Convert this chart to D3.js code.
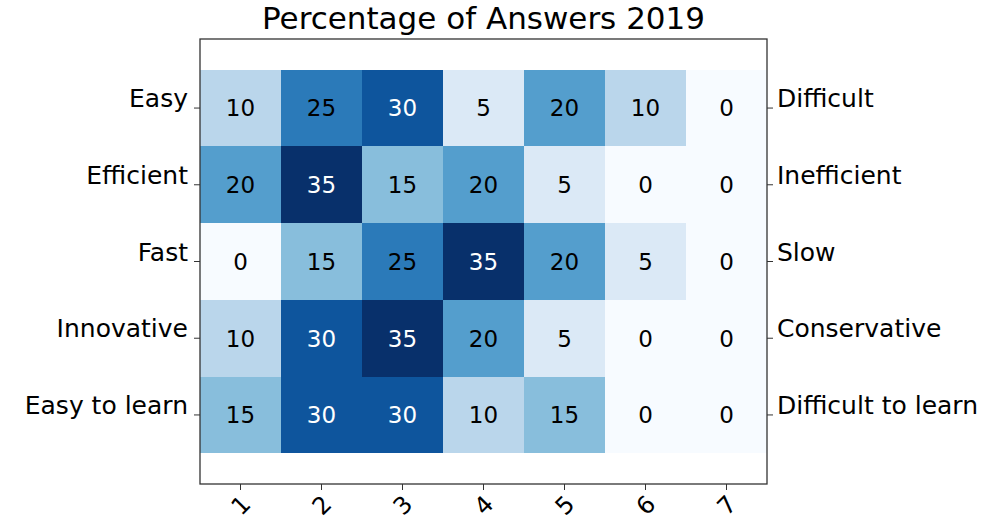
<!DOCTYPE html>
<meta charset="utf-8">
<script src="https://d3js.org/d3.v7.min.js"></script>
<style>
  body { margin: 0; background: #fff; }
  text { font-family: "DejaVu Sans", sans-serif; }
</style>
<div id="my_dataviz"></div>
<script>

// data
var leftLabels = ["Easy", "Efficient", "Fast", "Innovative", "Easy to learn"];
var rightLabels = ["Difficult", "Inefficient", "Slow", "Conservative", "Difficult to learn"];
var scaleLabels = ["1", "2", "3", "4", "5", "6", "7"];
var values = [
  [10, 25, 30, 5, 20, 10, 0],
  [20, 35, 15, 20, 5, 0, 0],
  [0, 15, 25, 35, 20, 5, 0],
  [10, 30, 35, 20, 5, 0, 0],
  [15, 30, 30, 10, 15, 0, 0]
];
var title = "Percentage of Answers 2019";

var W = 1005, H = 522;
var margin = {top: 39, left: 200},
    width = 567,
    height = 445;

var svg = d3.select("#my_dataviz")
  .append("svg")
    .attr("width", W)
    .attr("height", H)
  .append("g")
    .attr("transform", "translate(" + margin.left + "," + margin.top + ")");

// x: columns 1..7, y: rows with 0.4 cell padding top and bottom
var x = d3.scaleLinear().domain([0.5, 7.5]).range([0, width]);
var y = d3.scaleLinear().domain([-0.9, 4.9]).range([0, height]);
var color = d3.scaleSequential(d3.interpolateBlues).domain([0, 35]);

var cells = [];
values.forEach(function(row, i) {
  row.forEach(function(v, j) {
    cells.push({row: i, col: j + 1, value: v});
  });
});

svg.selectAll("rect.cell")
  .data(cells)
  .enter()
  .append("rect")
    .attr("class", "cell")
    .attr("x", function(d) { return x(d.col - 0.5) })
    .attr("y", function(d) { return y(d.row - 0.5) })
    .attr("width", x(1.5) - x(0.5))
    .attr("height", y(0.5) - y(-0.5))
    .attr("fill", function(d) { return color(d.value) })
    .attr("shape-rendering", "crispEdges");

svg.selectAll("text.val")
  .data(cells)
  .enter()
  .append("text")
    .attr("class", "val")
    .attr("x", function(d) { return x(d.col) })
    .attr("y", function(d) { return y(d.row) })
    .attr("dy", "0.36em")
    .attr("text-anchor", "middle")
    .style("font-size", "23px")
    .attr("fill", function(d) { return d.value > 25 ? "#ffffff" : "#000000" })
    .text(function(d) { return d.value });

// frame
svg.append("rect")
  .attr("width", width)
  .attr("height", height)
  .attr("fill", "none")
  .attr("stroke", "#333")
  .attr("stroke-width", 1.3);

// ticks
var ticks = d3.range(values.length);
svg.selectAll("line.lt")
  .data(ticks).enter().append("line")
    .attr("x1", -6).attr("x2", 0)
    .attr("y1", function(d) { return y(d) }).attr("y2", function(d) { return y(d) })
    .attr("stroke", "#333");
svg.selectAll("line.rt")
  .data(ticks).enter().append("line")
    .attr("x1", width).attr("x2", width + 6)
    .attr("y1", function(d) { return y(d) }).attr("y2", function(d) { return y(d) })
    .attr("stroke", "#333");
svg.selectAll("line.bt")
  .data(scaleLabels).enter().append("line")
    .attr("x1", function(d, i) { return x(i + 1) }).attr("x2", function(d, i) { return x(i + 1) })
    .attr("y1", height).attr("y2", height + 6)
    .attr("stroke", "#333");

// row labels
svg.selectAll("text.left")
  .data(leftLabels).enter().append("text")
    .attr("x", -12)
    .attr("y", function(d, i) { return y(i) - 1 })
    .attr("text-anchor", "end")
    .style("font-size", "25px")
    .text(function(d) { return d });
svg.selectAll("text.right")
  .data(rightLabels).enter().append("text")
    .attr("x", width + 10)
    .attr("y", function(d, i) { return y(i) - 1 })
    .style("font-size", "25px")
    .text(function(d) { return d });

// column labels, rotated 45
svg.selectAll("text.bottom")
  .data(scaleLabels).enter().append("text")
    .attr("transform", function(d, i) { return "translate(" + x(i + 1) + "," + (height + 21) + ") rotate(-45)" })
    .attr("text-anchor", "middle")
    .attr("dy", "0.36em")
    .style("font-size", "24px")
    .text(function(d) { return d });

svg.append("text")
  .attr("x", width / 2)
  .attr("y", -10)
  .attr("text-anchor", "middle")
  .style("font-size", "31px")
  .text(title);

</script>
